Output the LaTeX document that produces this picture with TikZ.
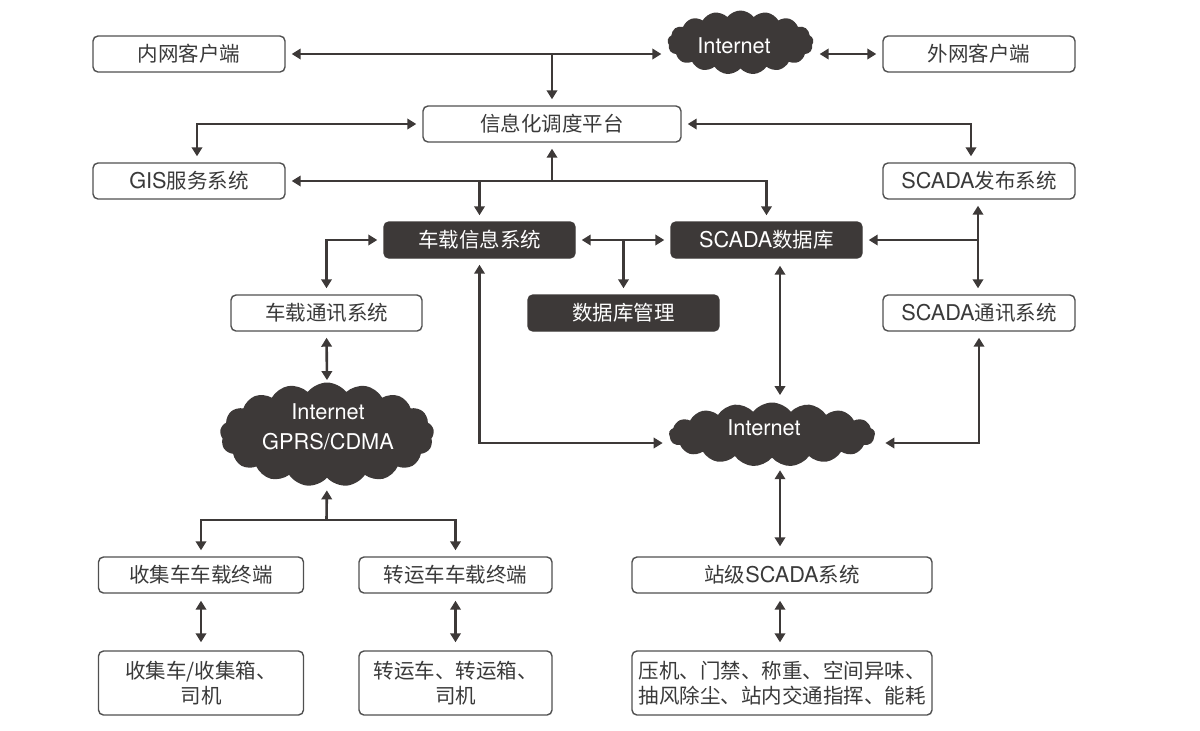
\documentclass[tikz,border=0pt]{standalone}
\usepackage{fontspec}
\setmainfont{Noto Sans CJK SC}
\newfontfamily\lat[Scale=1.06]{TeX Gyre Heros}
\usetikzlibrary{arrows.meta,shapes.symbols,calc}
\definecolor{dk}{HTML}{3D3938}
\definecolor{tx}{HTML}{3A3A3A}
\definecolor{bd}{HTML}{505050}
\begin{document}
\begin{tikzpicture}[x=0.5pt,y=-0.5pt,
 sz/.style 2 args={minimum width=#1*0.5pt,minimum height=#2*0.5pt},
 box/.style={draw=bd, line width=0.7pt, rounded corners=2.5pt, fill=white, text=tx, inner sep=0pt, align=center, font=\fontsize{10.25}{12.3}\selectfont},
 dbox/.style={box, fill=dk, draw=dk, text=white},
 cl/.style={cloud, cloud puffs=17, cloud puff arc=105, cloud ignores aspect, fill=dk, draw=none, inner sep=0pt},
 cltext/.style={text=white, align=center, font=\lat\fontsize{10.25}{15}\selectfont},
 ar/.style={draw=dk, line width=1.3pt, -{Triangle[length=4.5pt,width=5.2pt]}, shorten >=3pt},
 dar/.style={ar, {Triangle[length=4.5pt,width=5.2pt]}-{Triangle[length=4.5pt,width=5.2pt]}, shorten <=3pt},
]
\useasboundingbox (0,0) rectangle (1200,730);
% boxes
\node[box, sz={192}{36}] (nei) at (189,54) {内网客户端};
\node[box, sz={192}{36}] (wai) at (979,54) {外网客户端};
\node[box, sz={258}{36}] (plat) at (552,124) {信息化调度平台};
\node[box, sz={192}{36}] (gis) at (189,181) {{\lat GIS}服务系统};
\node[box, sz={192}{36}] (fabu) at (979,181) {{\lat SCADA}发布系统};
\node[dbox, sz={191}{36}] (chexin) at (479.5,240) {车载信息系统};
\node[dbox, sz={191}{36}] (scdb) at (766.5,240) {{\lat SCADA}数据库};
\node[box, sz={191}{36}] (chetx) at (326.5,313) {车载通讯系统};
\node[dbox, sz={191}{36}] (dbm) at (623.5,313) {数据库管理};
\node[box, sz={192}{36}] (sctx) at (979,313) {{\lat SCADA}通讯系统};
\node[box, sz={205}{36}] (sj) at (201,575) {收集车车载终端};
\node[box, sz={193}{36}] (zy) at (455.5,575) {转运车车载终端};
\node[box, sz={300}{36}] (zj) at (782,575) {站级{\lat SCADA}系统};
\node[box, sz={205}{64}] (sjb) at (201,683) {收集车/收集箱、\\司机};
\node[box, sz={193}{64}] (zyb) at (455.5,683) {转运车、转运箱、\\司机};
\node[box, sz={300}{64}] (yj) at (782,683) {压机、门禁、称重、空间异味、\\抽风除尘、站内交通指挥、能耗};
% clouds
\node[cl, sz={146}{64}] (ctop) at (740.5,42.5) {};
\node[cltext] (ttop) at (734,46) {Internet};
\node[cl, sz={214}{104}] (cg) at (327,434.5) {};
\node[cltext] (tg) at (328,427) {Internet\\GPRS/CDMA};
\node[cl, sz={206}{64}] (cin) at (772,434.5) {};
\node[cltext] (tin) at (764,428) {Internet};
% helper coordinates
\coordinate (c780) at (780,0);
\coordinate (c978) at (978,0);
\coordinate (y443) at (0,443);
\coordinate (j1) at (326.5,520);
% connectors
\draw[dar] (nei.east) -- (nei.east -| ctop.west);
\draw[ar] (nei.east -| plat.north) -- (plat.north);
\draw[dar] (ctop.east |- nei.east) -- (wai.west);
\draw[dar] (plat.west) -| ($(gis.north)+(8,0)$);
\draw[dar] (plat.east) -| ($(fabu.north)+(-8,0)$);
\draw[dar] (gis.east) -| (scdb.north);
\draw[ar] (gis.east -| plat.south) -- (plat.south);
\draw[ar] (gis.east -| chexin.north) -- (chexin.north);
\draw[dar] (chexin.east) -- (scdb.west);
\draw[ar] (chexin.east -| dbm.north) -- (dbm.north);
\draw[dar] (chexin.west) -| (chetx.north);
\draw[dar, shorten >=1pt] (chetx.south) -- (cg.north);
\draw[ar, shorten >=6pt] (j1) -- (cg.south);
\draw[ar] (j1) -| (sj.north);
\draw[ar] (j1) -| (zy.north);
\draw[dar] (chexin.south) |- (cin.west |- y443);
\draw[dar, shorten <=3.5pt, shorten >=3.5pt] (scdb.south -| c780) -- (cin.north -| c780);
\draw[dar] (fabu.south -| c978) -- (sctx.north -| c978);
\draw[ar] (scdb.east -| c978) -- (scdb.east);
\draw[dar, shorten >=5pt] (sctx.south) |- (cin.east |- y443);
\draw[dar, shorten <=6pt, shorten >=5pt] (cin.south -| c780) -- (zj.north -| c780);
\draw[dar, shorten <=3.5pt, shorten >=4pt] (sj.south) -- (sjb.north);
\draw[dar, shorten <=3.5pt, shorten >=4pt] (zy.south) -- (zyb.north);
\draw[dar, shorten <=3.5pt, shorten >=4pt] (zj.south -| c780) -- (yj.north -| c780);
\end{tikzpicture}
\end{document}
